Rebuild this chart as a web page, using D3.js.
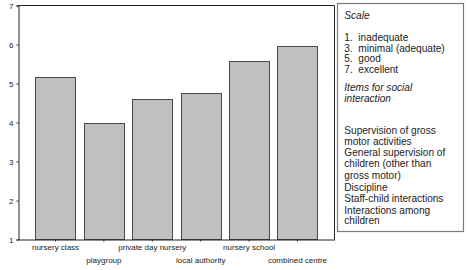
<!DOCTYPE html>
<html><head><meta charset="utf-8">
<script src="https://cdn.jsdelivr.net/npm/d3@7"></script>
<style>body{margin:0;background:#fff}svg{display:block}text{font-family:"Liberation Sans",Arial,sans-serif}</style>
</head><body><svg id="c" width="468" height="270"></svg>
<script>
const categories = ["nursery class","playgroup","private day nursery","local authority","nursery school","combined centre"];
const values = [5.17, 4.0, 4.6, 4.76, 5.58, 5.97];
const yTicks = [1,2,3,4,5,6,7];
const legendLines = [
  {t:"Scale", i:true, y:15},
  {t:"1.\u00a0 inadequate", y:37.3},
  {t:"3.\u00a0 minimal (adequate)", y:48},
  {t:"5.\u00a0 good", y:58.5},
  {t:"7.\u00a0 excellent", y:69},
  {t:"Items for social", i:true, y:87.5},
  {t:"interaction", i:true, y:98.3},
  {t:"Supervision of gross", y:130},
  {t:"motor activities", y:141.2},
  {t:"General supervision of", y:152.5},
  {t:"children (other than", y:163.7},
  {t:"gross motor)", y:175.3},
  {t:"Discipline", y:187},
  {t:"Staff-child interactions", y:198.8},
  {t:"Interactions among", y:210},
  {t:"children", y:220.8}
];

const svg = d3.select("#c");
const L = 18.5, R = 334.5, T = 5.5, B = 239.5;
const x = d3.scaleBand().domain(categories).range([L, R]).paddingInner(0.17).paddingOuter(0.35);
const y = d3.scaleLinear().domain([1,7]).range([B, T]);

// bars
svg.selectAll("rect.bar").data(values).join("rect")
  .attr("x", (d,i)=>Math.round(x(categories[i]))+0.5)
  .attr("y", d=>Math.round(y(d))+0.5)
  .attr("width", Math.round(x.bandwidth()))
  .attr("height", d=>B - Math.round(y(d)) - 0.5)
  .attr("fill", "#c0c0c0").attr("stroke", "#4a4a4a").attr("stroke-width", 1);

// frame top & right
svg.append("line").attr("x1",L).attr("x2",R).attr("y1",T).attr("y2",T).attr("stroke","#222");
svg.append("line").attr("x1",R).attr("x2",R).attr("y1",T).attr("y2",B).attr("stroke","#222");

// y axis
const ya = svg.append("g").attr("transform",`translate(${L},0)`)
  .call(d3.axisLeft(y).tickValues(yTicks).tickFormat(d3.format("d")).tickSize(2).tickPadding(3));
ya.select(".domain").attr("stroke","#222");
ya.selectAll(".tick line").attr("stroke","#222");
ya.selectAll("text").attr("font-size",8).attr("fill","#222").attr("font-family","Liberation Sans, Arial, sans-serif");

// x axis
const xa = svg.append("g").attr("transform",`translate(0,${B})`)
  .call(d3.axisBottom(x).tickSize(2).tickSizeOuter(0).tickPadding(3));
xa.select(".domain").attr("stroke","#222");
xa.selectAll(".tick line").attr("stroke","#222");
xa.selectAll("text").attr("font-size",8).attr("fill","#222").attr("font-family","Liberation Sans, Arial, sans-serif")
  .attr("dy", (d,i)=> i%2===0 ? "0.71em" : "2.31em");

// legend
svg.append("rect").attr("x",337.5).attr("y",3.5).attr("width",126).attr("height",228)
  .attr("fill","#fff").attr("stroke","#7a7a7a").attr("stroke-width",1.2);
svg.selectAll("text.leg").data(legendLines).join("text").attr("class","leg")
  .attr("x",344.3).attr("y",d=>d.y+3.5)
  .attr("font-size",10.1).attr("fill","#222")
  .attr("font-style",d=>d.i?"italic":"normal")
  .text(d=>d.t);
</script></body></html>
